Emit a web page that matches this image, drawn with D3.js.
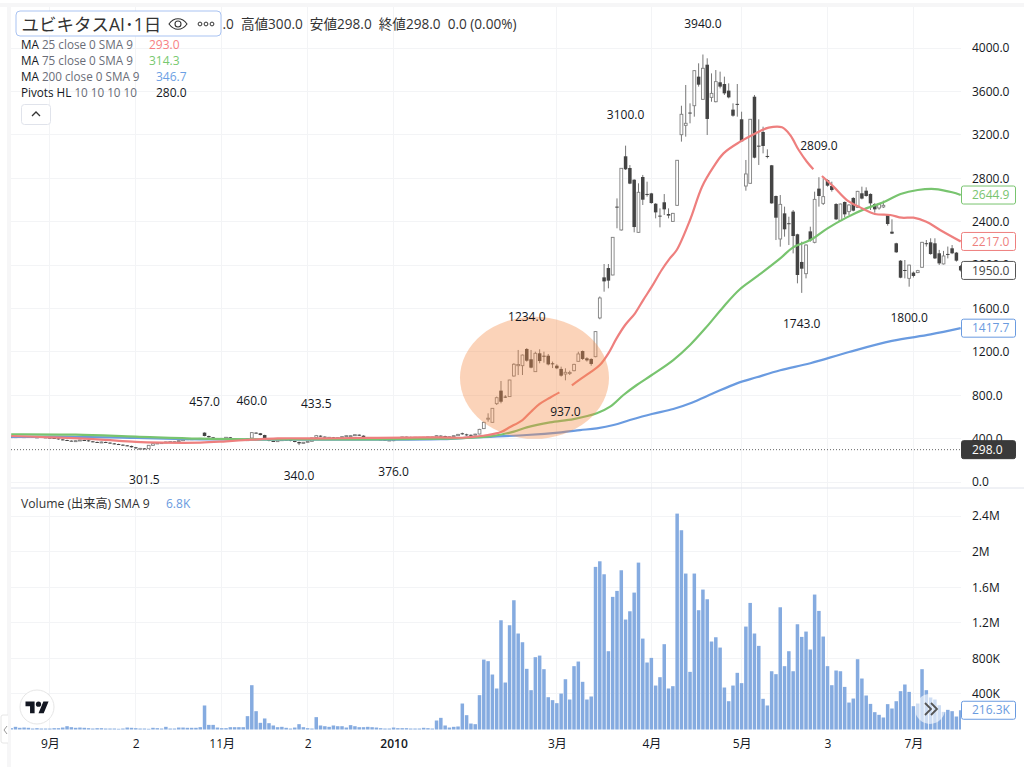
<!DOCTYPE html>
<html>
<head>
<meta charset="utf-8">
<script src="https://cdn.jsdelivr.net/npm/d3@7"></script>
<style>
  html, body { margin: 0; padding: 0; background: #fff; }
  svg { display: block; }
  text { font-family: "Open Sans", "Noto Sans CJK JP", sans-serif; }
</style>
</head>
<body>
<div id="chart"></div>
<script>
// daily candles
const opens = [
  415,418,418,415,418,415,412,415,412,409, 406,402,393,387,381,378,381,387,384,375,
  369,366,369,363,356,350,344,338,332,320, 310,310,307,338,353,360,363,369,372,372,
  381,396,399,399,396,455,424,412,402,399, 402,412,402,396,387,381,405,455,449,433,
  402,378,372,390,390,387,378,369,356,366, 375,410,427,418,412,412,402,409,418,427,
  427,436,427,412,409,402,393,390,387,387, 390,409,415,415,412,412,409,412,415,415,
  427,424,415,418,427,449,439,435,432,442, 492,586,550,722,842,787,787,977,1072,1072,
  1226,1131,1017,1186,1164,1164,1094,1072,1042,995, 1008,1026,1112,1207,1140,1134,1155,1512,1886,1972,
  1908,2538,2323,3002,2894,2786,2301,2811,2655,2660, 2565,2455,2578,2470,2402,2550,3201,3287,3405,3468,
  3736,3527,3846,3545,3505,3684,3668,3607,3432,3485, 3343,2728,2753,3551,3100,3226,3005,2919,2636,2240,
  2476,2385,2492,2283,2028,1920,2310,2209,2704,2568, 2783,2728,2562,2409,2581,2492,2618,2531,2661,2685,
  2655,2562,2525,2535,2461,2307,2200,2040,1954,1877, 1930,1930,1979,2201,2209,2200,2108,2010,2102,2154,
  2114,1990]
, highs = [
  421,421,421,421,421,418,418,418,415,412, 409,405,396,390,384,384,390,390,387,378,
  372,372,372,366,359,353,347,341,335,323, 314,313,340,356,363,366,372,375,375,384,
  399,402,402,402,405,457,427,415,405,405, 415,415,405,399,390,402,460,458,452,436,
  405,381,393,393,393,390,381,372,369,378, 409,433.5,430,421,415,415,412,421,430,430,
  439,439,430,415,412,405,396,393,390,393, 412,418,418,418,415,415,415,418,418,432,
  430,427,421,430,443,455,445,438,445,490, 555,633,680,787,931,800,942,1095,1217,1175,
  1234,1217,1201,1223,1201,1180,1110,1085,1063,1048, 1026,1090,1201,1212,1150,1140,1390,1710,2009,2009,
  2258,2614,2891,3100,2921,2790,2753,2830,2768,2665, 2570,2522,2654,2522,2480,2968,3468,3659,3490,3795,
  3859,3940,3905,3766,3797,3782,3736,3674,3490,3668, 3413,2968,3346,3567,3343,3275,3066,2922,2640,2645,
  2538,2445,2507,2288,2215,2190,2353,2676,2809,2799, 2790,2768,2570,2566,2585,2560,2625,2683,2722,2716,
  2660,2570,2570,2593,2465,2421,2205,2045,2046,2002, 1940,1955,2213,2230,2246,2246,2139,2130,2170,2184,
  2120,2000]
, lows = [
  412,415,412,412,412,409,409,409,406,403, 399,390,384,378,375,375,378,381,372,366,
  363,363,360,353,347,341,335,329,317,307, 307,301.5,305,335,350,357,360,366,369,369,
  378,393,396,393,393,421,409,399,396,396, 399,399,393,384,378,378,402,446,430,399,
  375,369,369,387,384,375,366,340,353,363, 372,407,415,409,409,399,399,406,415,424,
  424,424,409,406,399,390,387,384,384,376, 387,406,412,409,409,406,406,409,412,412,
  421,412,412,415,424,436,425,425,430,440, 488,556,548,710,725,775,785,971,986,986,
  1109,1048,1017,1094,1100,1075,1050,1040,971,937, 986,1020,1109,1125,1110,1072,1150,1500,1754,1785,
  1905,2338,2317,2876,2745,2301,2298,2553,2630,2565, 2430,2347,2461,2430,2398,2545,3137,3183,3306,3367,
  3644,3521,3198,3505,3499,3628,3567,3536,3367,3367, 3137,2685,2750,2983,2922,3029,2983,2565,2230,2169,
  2261,2184,2107,1831,1743,1877,2215,2200,2538,2553, 2722,2676,2415,2405,2439,2460,2495,2525,2605,2630,
  2507,2482,2510,2525,2363,2285,2112,1878,1877,1800, 1885,1925,1975,2170,2095,2055,2000,2005,2061,2100,
  2031,1940]
, closes = [
  418,418,415,418,415,412,415,412,409,406, 402,393,387,381,378,381,387,384,375,369,
  366,369,363,356,350,344,338,332,320,310, 310,307,338,353,360,363,369,372,372,381,
  396,399,399,396,402,424,412,402,399,402, 412,402,396,387,381,399,455,449,433,402,
  378,372,390,390,387,378,369,356,366,375, 406,427,418,412,412,402,409,418,427,427,
  436,427,412,409,402,393,390,387,387,390, 409,415,415,412,412,409,412,415,415,427,
  424,415,418,427,439,440,430,430,441,485, 550,588,679,777,740,785,940,1085,1083,1170,
  1118,1054,1186,1115,1160,1084,1088,1048,980,1011, 1009,1084,1180,1134,1121,1088,1386,1696,1849,1856,
  2255,2536,2891,2882,2750,2350,2670,2602,2653,2571, 2485,2450,2513,2455,2476,2965,3389,3306,3403,3791,
  3662,3813,3346,3582,3690,3644,3582,3545,3376,3483, 3140,2839,3343,2989,3098,3097,3003,2568,2436,2559,
  2329,2383,2267,1908,1966,2184,2227,2605,2636,2630, 2731,2691,2421,2562,2467,2553,2501,2679,2612,2636,
  2568,2513,2562,2550,2378,2289,2117,1883,1950,1999, 1899,1948,2209,2199,2101,2061,2015,2083,2100,2108,
  2040,1950];

// volume in thousands of shares
const volumes = [
  15,30,19,22,19,11,15,11,11,11, 15,15,22,37,26,19,22,19,15,11,
  15,15,11,11,11,8,11,22,19,15, 11,11,8,19,15,11,30,11,11,22,
  22,19,19,19,26,270,52,52,22,15, 15,26,26,26,26,150,498,206,75,124,
  71,45,26,30,19,11,22,60,26,15, 11,139,45,37,30,45,37,37,22,49,
  37,26,26,30,26,22,15,11,11,22, 15,15,15,11,11,11,19,15,11,101,
  131,45,22,30,34,292,161,67,60,386, 786,768,618,461,1228,528,1172,1453,1079,981,
  682,442,813,831,678,363,330,296,404,565, 337,712,764,536,337,371,1828,1891,1745,880,
  1491,1558,1790,1236,1329,1539,1876,1022,753,805, 494,588,959,461,487,2427,2240,1753,648,1753,
  1341,1573,1464,989,1037,921,472,318,494,637, 521,1157,1423,1079,940,345,270,655,622,1374,
  712,880,655,1183,1041,1101,899,1517,1333,1045, 712,498,663,655,479,303,348,790,573,382,
  288,195,165,135,285,236,318,431,506,423, 262,292,678,442,360,337,273,198,221,206,
  146,216.3];

// moving averages, sampled along each line. null = hole in the line
const ma25Bars = [0,9,20,29,35,44,50,56,62,72,82,92,100,105,108,111,114,116,119,121,123,125.4,127.6,129,130.5,132.4,134.7,137,139,140.9,142.9,145.2,147.1,149.1,151.4,153.3,154.9,158,160.8,163.5,165.8,169.7,173.2,176.3,179.4,181.3,183.3,185.2,186.7,187.5,188.7,191.4,194.5,197.6,201,204.6,207.3,210,213,216.2,221]
, ma25Vals = [424,412,393,369,363,363,375,390,402,402,406,409,412,408,418,433,461,504,571,648,719,777,826,null,891,946,1008,1078,1186,1324,1447,1555,1677,1800,1954,2061,2138,2415,2722,2906,3029,3137,3213,3266,3269,3198,3060,2952,2882,null,2820,2722,2599,2531,2470,2461,2436,2436,2399,2323,2217]
, ma75Bars = [0,15,29,44,60,72,85,100,105,112,117,120,125.4,130.9,136.3,139.4,142.5,145.6,149.1,154.1,158,161.9,165.8,169.6,173.5,179,182,186,190,194.5,199,203,207,211,215,219,221]
, ma75Vals = [439,436,418,399,393,393,393,399,403,424,464,504,550,580,633,694,802,894,986,1124,1263,1432,1616,1776,1892,2061,2163,2230,2338,2439,2522,2578,2654,2691,2700,2670,2644.9]
, ma200Bars = [0,10,29,44,60,80,100,105,120,128,132.4,136.3,140.2,144,149.1,154.1,158.4,163.4,168.9,173.5,179,186,195,205,214,221]
, ma200Vals = [415,418,406,393,390,390,395,405,433,458,478,495,525,571,627,673,731,817,909,965,1030,1095,1198,1300,1360,1417.7];

// pivots: bar, label, above the high or under the low
const pivotBars = [45,56,71,120,143,161,188, 31,67,89,129,184,209]
, pivotVals = [457,460,433.5,1234,3100,3940,2809, 301.5,340,376,937,1743,1800]
, pivotHigh = [true,true,true,true,true,true,true, false,false,false,false,false,false];

const priceTicks = [0,400,800,1200,1600,2000,2400,2800,3200,3600,4000]
, volumeTicks = [400,800,1200,1600,2000,2400]
, volumeTickLabels = ["400K","800K","1.2M","1.6M","2M","2.4M"]
, timeBars = [9,29,49,69,89,127,149,170,190,210]
, timeLabels = ["9月","2","11月","2","2010","3月","4月","5月","3","7月"];

const legendNames = ["MA 25 close 0 SMA 9","MA 75 close 0 SMA 9","MA 200 close 0 SMA 9","Pivots HL 10 10 10 10"]
, legendValues = ["293.0","314.3","346.7","280.0"]
, legendColors = ["#f77f83","#78c96f","#6b9fe4","#131722"];

const width = 1024, height = 767
, left = 11, right = 961
, ma25Color = "#ee7f7e", ma75Color = "#78c46f", ma200Color = "#6a9be0"
, volumeColor = "#85abe0", darkCandle = "#444", textColor = "#131722", gridColor = "#f3f4f6";

const x = d3.scaleLinear().domain([0,221]).range([11.2,960.7])
, y = d3.scaleLinear().domain([0,4000]).range([482,48])
, yVol = d3.scaleLinear().domain([0,2400]).range([729.5,516]);

const svg = d3.select("#chart").append("svg")
  .attr("width", width)
  .attr("height", height);

// page frame round the chart card
svg.append("rect").attr("x",0).attr("y",3).attr("width",width).attr("height",4).style("fill","#f6f6f7");
svg.append("rect").attr("x",7).attr("y",3).attr("width",4).attr("height",height-3).style("fill","#f6f6f7");

const defs = svg.append("defs");
defs.append("clipPath").attr("id","plot")
  .append("rect").attr("x",left).attr("y",7).attr("width",right-left).attr("height",height-7);

// grid
const grid = svg.append("g").style("stroke",gridColor).style("stroke-width",1).style("shape-rendering","crispEdges");
grid.selectAll(".hp").data(priceTicks).enter().append("line")
  .attr("x1",left).attr("x2",right).attr("y1",d=>y(d)).attr("y2",d=>y(d));
grid.selectAll(".hv").data(volumeTicks).enter().append("line")
  .attr("x1",left).attr("x2",right).attr("y1",d=>yVol(d)).attr("y2",d=>yVol(d));
grid.selectAll(".v").data(timeBars).enter().append("line")
  .attr("x1",d=>x(d)).attr("x2",d=>x(d)).attr("y1",7).attr("y2",730);
svg.append("line").attr("x1",left).attr("x2",width).attr("y1",488).attr("y2",488)
  .style("stroke","#e0e3eb").style("stroke-width",1);

const plot = svg.append("g").attr("clip-path","url(#plot)");

// volume
plot.selectAll(".vol").data(volumes).enter().append("rect")
  .attr("x",(d,i)=>x(i)-1.75)
  .attr("y",d=>yVol(d))
  .attr("width",3.5)
  .attr("height",d=>yVol(0)-yVol(d))
  .style("fill",volumeColor);

// last price line
plot.append("line")
  .attr("x1",left).attr("x2",right).attr("y1",y(298)).attr("y2",y(298))
  .style("stroke","#666").style("stroke-width",1).style("stroke-dasharray","1,2");

// candles
const candles = plot.selectAll(".candle").data(closes).enter().append("g");
candles.append("line")
  .attr("x1",(d,i)=>x(i)).attr("x2",(d,i)=>x(i))
  .attr("y1",(d,i)=>y(highs[i])).attr("y2",(d,i)=>y(lows[i]))
  .style("stroke","#777").style("stroke-width",1);
candles.append("rect")
  .attr("x",(d,i)=>x(i)-(d>=opens[i]?1.4:1.75))
  .attr("y",(d,i)=>y(Math.max(d,opens[i])))
  .attr("width",(d,i)=>d>=opens[i]?2.8:3.5)
  .attr("height",(d,i)=>Math.max(1,Math.abs(y(d)-y(opens[i]))))
  .style("fill",(d,i)=>d>=opens[i]?"#fff":darkCandle)
  .style("stroke",(d,i)=>d>=opens[i]?"#808080":"none")
  .style("stroke-width",0.9);

// moving averages
function drawMa(bars, vals, color) {
  const line = d3.line()
    .defined(d=>d[1]!==null)
    .x(d=>x(d[0]))
    .y(d=>y(d[1]))
    .curve(d3.curveCatmullRom);
  plot.append("path")
    .attr("d", line(bars.map((b,i)=>[b,vals[i]])))
    .style("fill","none")
    .style("stroke",color)
    .style("stroke-width",2.2);
}
drawMa(ma200Bars, ma200Vals, ma200Color);
drawMa(ma75Bars, ma75Vals, ma75Color);
drawMa(ma25Bars, ma25Vals, ma25Color);

// the hand drawn circle on top of the chart
svg.append("ellipse")
  .attr("cx",x(121.8)).attr("cy",y(960))
  .attr("rx",74.5).attr("ry",61)
  .style("fill","rgb(245,140,70)").style("fill-opacity",0.38);

// pivot labels
svg.selectAll(".pivot").data(pivotVals).enter().append("text")
  .attr("x",(d,i)=>x(pivotBars[i]))
  .attr("y",(d,i)=>y(d)+(pivotHigh[i]?-31:31))
  .attr("dy","0.35em")
  .attr("text-anchor","middle")
  .text(d=>d.toFixed(1))
  .style("font-size","12px")
  .style("fill",textColor);

// axes
function styleAxis(g) {
  g.select(".domain").remove();
  g.selectAll(".tick line").remove();
  g.selectAll("text").style("font-size","12px").style("fill",textColor);
}
svg.append("g").attr("transform",`translate(${right},0)`)
  .call(d3.axisRight(y).tickValues(priceTicks).tickFormat(d=>d.toFixed(1)).tickSize(0).tickPadding(11))
  .call(styleAxis);
svg.append("g").attr("transform",`translate(${right},0)`)
  .call(d3.axisRight(yVol).tickValues(volumeTicks).tickFormat((d,i)=>volumeTickLabels[i]).tickSize(0).tickPadding(11))
  .call(styleAxis);
svg.append("g").attr("transform","translate(0,739.5)")
  .call(d3.axisBottom(x).tickValues(timeBars).tickFormat((d,i)=>timeLabels[i]).tickSize(0).tickPadding(0))
  .call(styleAxis)
  .selectAll("text").style("font-weight",(d,i)=>timeLabels[i]==="2010"?"600":"normal");

// price boxes on the axis
function priceBox(val, scale, label, color, fill, textFill) {
  const cy = scale(val);
  svg.append("rect")
    .attr("x",961.5).attr("y",cy-9).attr("width",54).attr("height",18).attr("rx",2)
    .style("fill",fill).style("stroke",color).style("stroke-width",1);
  svg.append("text")
    .attr("x",972).attr("y",cy).attr("dy","0.35em")
    .text(label)
    .style("font-size","12px").style("fill",textFill);
}
priceBox(2644.9, y, "2644.9", ma75Color, "#fff", ma75Color);
priceBox(2217, y, "2217.0", ma25Color, "#fff", ma25Color);
priceBox(1950, y, "1950.0", "#555", "#fff", "#444");
priceBox(1417.7, y, "1417.7", ma200Color, "#fff", ma200Color);
priceBox(298, y, "298.0", "#3a3a3a", "#3a3a3a", "#fff");
priceBox(216.3, yVol, "216.3K", ma200Color, "#fff", ma200Color);

// title + OHLC line
svg.append("text").attr("x",222.5).attr("y",29)
  .text(".0  高値300.0  安値298.0  終値298.0  0.0 (0.00%)")
  .attr("xml:space","preserve")
  .style("font-size","13.6px").style("fill","#333");
svg.append("rect")
  .attr("x",16).attr("y",11).attr("width",205).attr("height",25).attr("rx",4)
  .style("fill","#fff").style("stroke","#a9c3f2").style("stroke-width",1);
svg.append("text").attr("x",21.5).attr("y",30.5)
  .text("ユビキタスAI･1日")
  .style("font-size","17.5px").style("fill","#333");
const eye = svg.append("g").attr("transform","translate(178,24)")
  .style("fill","none").style("stroke","#333").style("stroke-width",1.1);
eye.append("path").attr("d","M-9,0 C-4,-7 4,-7 9,0 C4,7 -4,7 -9,0 Z");
eye.append("circle").attr("r",3);
svg.selectAll(".dot").data([-6,0,6]).enter().append("circle")
  .attr("cx",d=>206+d).attr("cy",24).attr("r",1.9)
  .style("fill","none").style("stroke","#333").style("stroke-width",1);

// legend lines
const legend = svg.selectAll(".legend").data(legendNames).enter().append("g")
  .attr("transform",(d,i)=>`translate(21,${45+16*i})`);
legend.append("text").attr("dy","0.35em")
  .style("font-size","11.7px").style("fill","#6a6d78")
  .each(function(d) {
    const head = d.startsWith("Pivots") ? "Pivots HL" : "MA";
    d3.select(this).append("tspan").text(head).style("fill",textColor);
    d3.select(this).append("tspan").text(d.slice(head.length));
  });
legend.append("text").attr("dy","0.35em")
  .attr("x",(d,i)=>i<2?128:135)
  .text((d,i)=>legendValues[i])
  .style("font-size","12px")
  .style("fill",(d,i)=>legendColors[i]);

// collapse button
svg.append("rect").attr("x",21.5).attr("y",104.5).attr("width",29).attr("height",20).attr("rx",3)
  .style("fill","#fff").style("stroke","#e0e3eb");
svg.append("path").attr("d","M32,116 L36,112 L40,116")
  .style("fill","none").style("stroke","#333").style("stroke-width",1.3);

// volume legend
const volumeLegend = svg.append("text").attr("x",21).attr("y",504).attr("dy","0.35em")
  .style("font-size","12.2px").style("fill","#333");
volumeLegend.append("tspan").text("Volume (出来高) SMA 9");
svg.append("text").attr("x",166).attr("y",504).attr("dy","0.35em")
  .text("6.8K").style("font-size","12px").style("fill",ma200Color);

// logo
svg.append("circle").attr("cx",37).attr("cy",707).attr("r",17)
  .style("fill","#fff").style("stroke","#e6e6e6");
svg.append("g").attr("transform","translate(25.5,699) scale(0.65)")
  .call(g=>{
    g.append("path").attr("d","M14 22H7V11H0V4h14v18zM28 22h-8l7.5-18h8L28 22z").style("fill","#131722");
    g.append("circle").attr("cx",20).attr("cy",8).attr("r",4).style("fill","#131722");
  });

// scroll to realtime button
svg.append("circle").attr("cx",930).attr("cy",709).attr("r",15)
  .style("fill","#fff").style("fill-opacity",0.6);
svg.append("path").attr("d","M925,703 L931,709 L925,715 M931,703 L937,709 L931,715")
  .style("fill","none").style("stroke","#555").style("stroke-width",1.8);

// left handle
svg.append("path").attr("d","M8,715 H3 Q1,715 1,717 V741 Q1,743 3,743 H8")
  .style("fill","#fff").style("stroke","#e6e6e6");
svg.append("path").attr("d","M7,726 L4,730 L7,734")
  .style("fill","none").style("stroke","#999").style("stroke-width",1);
</script>
</body>
</html>
